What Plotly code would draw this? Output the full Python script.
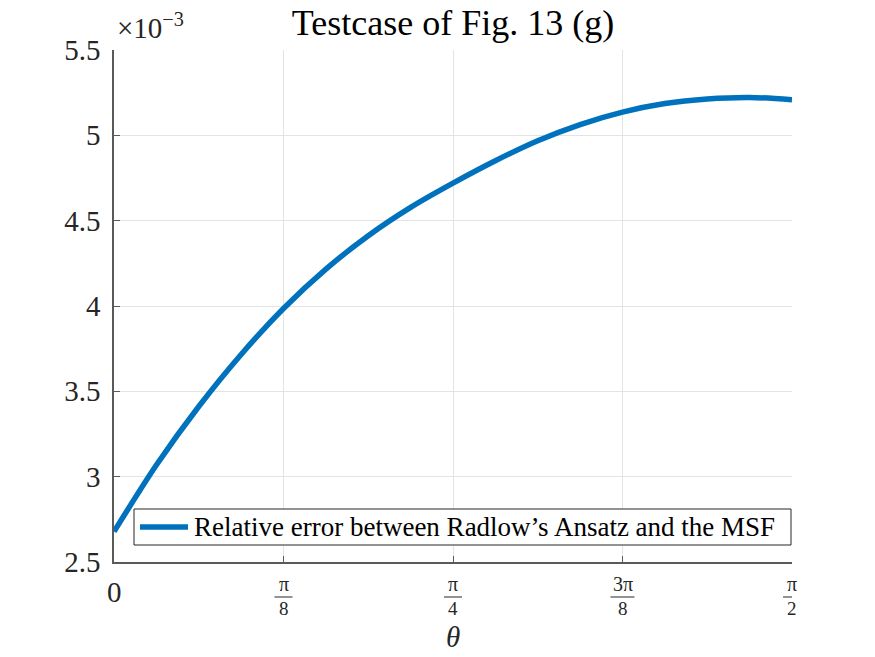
import math
import plotly.graph_objects as go

# ---- data (values in units of 1e-3) ----
theta = [k * math.pi / 32 for k in range(17)]
rel_err = [2.678, 3.068, 3.411, 3.716, 3.985, 4.216, 4.412, 4.578, 4.720,
           4.851, 4.968, 5.063, 5.136, 5.186, 5.213, 5.222, 5.209]

series_name = "Relative error between Radlow’s Ansatz and the MSF"
title_text = "Testcase of Fig. 13 (g)"
x_title = "θ"
exp_text = "×10<sup>−3</sup>"

x_tick_vals = [0, math.pi / 8, math.pi / 4, 3 * math.pi / 8, math.pi / 2]
x_tick_num = ["0", "π", "π", "3π", "π"]
x_tick_den = [None, "8", "4", "8", "2"]

y_tick_vals = [2.5, 3, 3.5, 4, 4.5, 5, 5.5]
y_tick_text = ["2.5", "3", "3.5", "4", "4.5", "5", "5.5"]

FONT = "Liberation Serif"
AX = "#5a5a5a"
GRID = "#e3e3e3"
TXT = "#262626"
LINE_COLOR = "#0072BD"

fig = go.Figure()
fig.add_trace(go.Scatter(
    x=theta, y=rel_err, mode="lines", name=series_name, showlegend=False,
    line=dict(color=LINE_COLOR, width=5.5, shape="spline", smoothing=0.8),
))

annotations = []
shapes = []
for v, num, den in zip(x_tick_vals, x_tick_num, x_tick_den):
    if den is None:
        annotations.append(dict(x=v, y=0, xref="x", yref="paper", text=num,
                                showarrow=False, xanchor="center", yanchor="middle",
                                yshift=-30, font=dict(family=FONT, size=29, color=TXT)))
    else:
        annotations.append(dict(x=v, y=0, xref="x", yref="paper", text=num,
                                showarrow=False, xanchor="center", yanchor="middle",
                                yshift=-22, font=dict(family=FONT, size=20, color=TXT)))
        annotations.append(dict(x=v, y=0, xref="x", yref="paper", text=den,
                                showarrow=False, xanchor="center", yanchor="middle",
                                yshift=-46, font=dict(family=FONT, size=19, color=TXT)))
        hw = 12 if len(num) > 1 else 9
        shapes.append(dict(type="line", xref="x", yref="paper", xsizemode="pixel",
                           ysizemode="pixel", xanchor=v, yanchor=0,
                           x0=-hw, x1=hw, y0=-35, y1=-35,
                           line=dict(color=TXT, width=1)))

# x-axis title
annotations.append(dict(x=0.5, y=0, xref="paper", yref="paper", text="<i>%s</i>" % x_title,
                        showarrow=False, xanchor="center", yanchor="middle", yshift=-75,
                        font=dict(family=FONT, size=29, color=TXT)))
# exponent label
annotations.append(dict(x=0, y=1, xref="paper", yref="paper",
                        text=exp_text, showarrow=False,
                        xanchor="left", yanchor="bottom", xshift=1, yshift=4,
                        font=dict(family=FONT, size=29, color=TXT)))

# legend box (drawn in pixels relative to plot area corner)
shapes.append(dict(type="rect", xref="paper", yref="paper", xsizemode="pixel",
                   ysizemode="pixel", xanchor=1, yanchor=0,
                   x0=-658, x1=-1, y0=17, y1=53,
                   fillcolor="white", line=dict(color=TXT, width=1), layer="above"))
shapes.append(dict(type="line", xref="paper", yref="paper", xsizemode="pixel",
                   ysizemode="pixel", xanchor=1, yanchor=0,
                   x0=-652, x1=-604, y0=35, y1=35,
                   line=dict(color=LINE_COLOR, width=5.5), layer="above"))
annotations.append(dict(x=1, y=0, xref="paper", yref="paper", text=series_name,
                        showarrow=False, xanchor="left", yanchor="middle",
                        xshift=-600, yshift=35,
                        font=dict(family=FONT, size=27, color="#000000")))

fig.update_layout(
    width=875, height=657,
    margin=dict(l=114, r=83, t=50, b=95),
    paper_bgcolor="white", plot_bgcolor="white",
    title=dict(text=title_text, x=(114 + 339) / 875, xanchor="center",
               y=1 - 22 / 657, yanchor="middle",
               font=dict(family=FONT, size=36, color="#000000")),
    showlegend=False,
    xaxis=dict(range=[0, math.pi / 2], tickvals=x_tick_vals,
               showticklabels=False,
               showgrid=True, gridcolor=GRID, gridwidth=1,
               showline=True, linecolor=AX, linewidth=1.5,
               ticks="inside", ticklen=6, tickcolor=AX, zeroline=False),
    yaxis=dict(range=[2.5, 5.5], tickvals=y_tick_vals, ticktext=y_tick_text,
               showgrid=True, gridcolor=GRID, gridwidth=1,
               showline=True, linecolor=AX, linewidth=1.5,
               ticks="inside", ticklen=6, tickcolor=AX, zeroline=False,
               ticklabelstandoff=6,
               tickfont=dict(family=FONT, size=29, color=TXT)),
    annotations=annotations,
    shapes=shapes,
)

fig.write_html("out.html")
